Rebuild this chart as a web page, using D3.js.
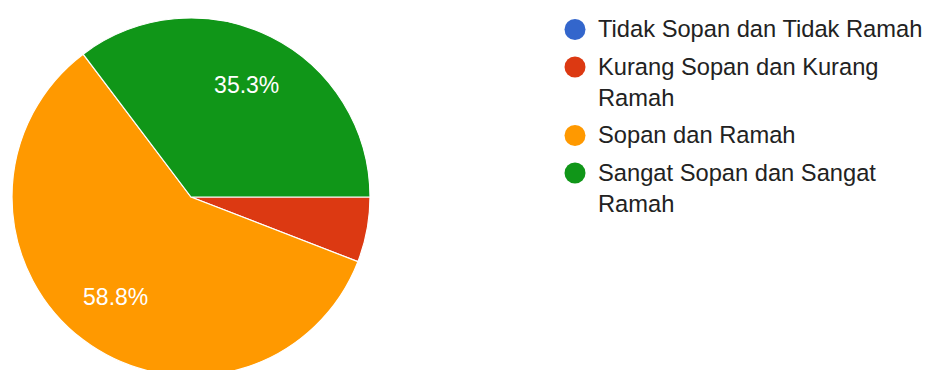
<!DOCTYPE html>
<html>
<head>
<meta charset="utf-8">
<script src="https://cdn.jsdelivr.net/npm/d3@7"></script>
<style>
  html, body { margin: 0; padding: 0; background: #ffffff; }
  svg { display: block; font-family: Arial, "Liberation Sans", sans-serif; }
</style>
</head>
<body>
<svg id="chart" width="931" height="370"></svg>
<script>
// Response categories and counts (17 respondents)
const categories = [
  "Tidak Sopan dan Tidak Ramah",
  "Kurang Sopan dan Kurang Ramah",
  "Sopan dan Ramah",
  "Sangat Sopan dan Sangat Ramah"
];
const counts = [0, 1, 10, 6];
const colors = ["#3366cc", "#dc3912", "#ff9900", "#109618"];

const svg = d3.select("#chart");

const cx = 191, cy = 197, radius = 179;
const total = d3.sum(counts);

const color = d3.scaleOrdinal().domain(categories).range(colors);

// Slices run clockwise, starting at the 3 o'clock position
const pie = d3.pie()
  .value(d => d.value)
  .sort(null)
  .startAngle(Math.PI / 2)
  .endAngle(Math.PI / 2 + 2 * Math.PI);

const data = categories.map((c, i) => ({ name: c, value: counts[i] }));
const arcs = pie(data);

const arc = d3.arc().innerRadius(0).outerRadius(radius);
const labelArc = d3.arc().innerRadius(125).outerRadius(125);

const g = svg.append("g").attr("transform", `translate(${cx},${cy})`);

g.selectAll("path.slice")
  .data(arcs.filter(d => d.value > 0))
  .join("path")
  .attr("class", "slice")
  .attr("d", arc)
  .attr("fill", d => color(d.data.name))
  .attr("stroke", "#ffffff")
  .attr("stroke-width", 1.2);

// Percentage labels on slices large enough to hold them
g.selectAll("text.pct")
  .data(arcs.filter(d => d.value / total > 0.1))
  .join("text")
  .attr("class", "pct")
  .attr("transform", d => `translate(${labelArc.centroid(d)})`)
  .attr("text-anchor", "middle")
  .attr("dy", "0.36em")
  .attr("fill", "#ffffff")
  .style("font-size", "23px")
  .text(d => (d.value / total * 100).toFixed(1) + "%");

// Legend with word-wrapped entries
const legend = svg.append("g").attr("transform", "translate(575,0)");
const fontSize = 23.7, lineH = 31, itemGap = 6.5, maxW = 330;
let baseline = 37;

categories.forEach((name, i) => {
  const item = legend.append("g");
  item.append("circle")
    .attr("cx", 0)
    .attr("cy", baseline - 7.5)
    .attr("r", 10.5)
    .attr("fill", colors[i]);

  const text = item.append("text")
    .attr("x", 23)
    .attr("y", baseline)
    .attr("fill", "#222222")
    .style("font-size", fontSize + "px");

  const words = name.split(" ");
  let line = [];
  let tspan = text.append("tspan").attr("x", 23).attr("y", baseline);
  let lines = 1;
  words.forEach(w => {
    line.push(w);
    tspan.text(line.join(" "));
    if (tspan.node().getComputedTextLength() > maxW && line.length > 1) {
      line.pop();
      tspan.text(line.join(" "));
      line = [w];
      tspan = text.append("tspan")
        .attr("x", 23)
        .attr("y", baseline + lines * lineH)
        .text(w);
      lines++;
    }
  });
  baseline += lines * lineH + itemGap;
});
</script>
</body>
</html>
